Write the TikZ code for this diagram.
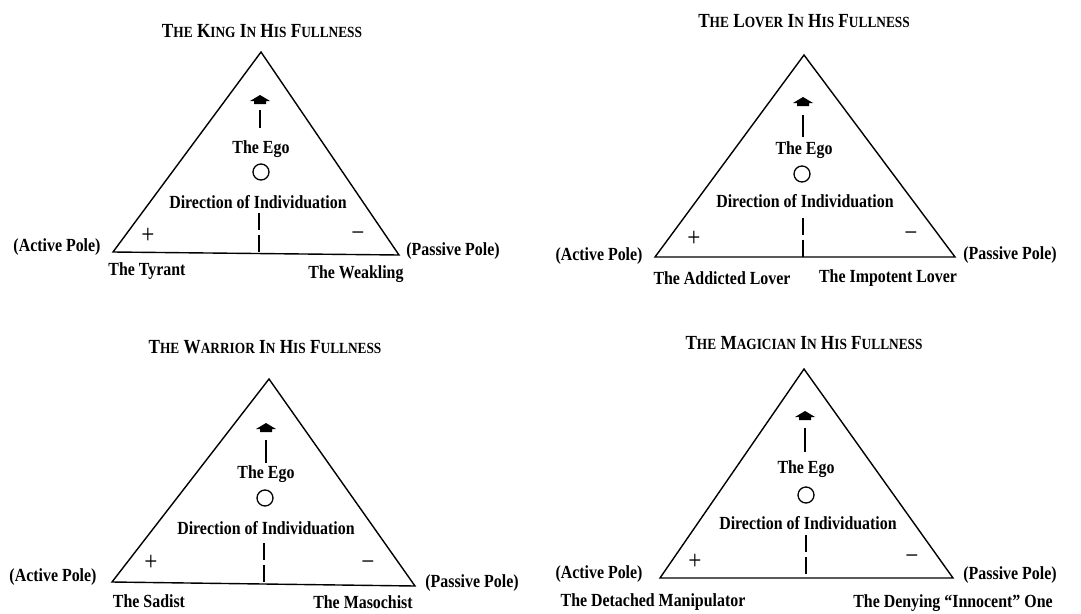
\documentclass[tikz,border=0pt]{standalone}
\usepackage{fontspec}
\setmainfont{Liberation Serif}[FakeStretch=0.86]
% small capitals built from two sizes of upper case
\newcommand\smc[1]{{\fontsize{15.5}{17}\selectfont #1}}
\tikzset{
  tri/.style={line width=1.4pt, line join=miter},
  lbl/.style={font=\fontsize{18.5}{20}\selectfont\bfseries, inner sep=0pt},
  ttl/.style={font=\fontsize{20}{22}\selectfont\bfseries, inner sep=0pt},
  sign/.style={font=\fontsize{27}{27}\selectfont, inner sep=0pt},
  shaft/.style={line width=1.8pt},
  dashline/.style={line width=1.6pt, dash pattern=on 17pt off 5pt},
  ego/.style={circle, draw, line width=1.3pt, minimum size=16pt, inner sep=0pt},
  uphead/.pic={\fill (0,-5) -- (-10,1) -- (-6,1) -- (-6,4) -- (6,4) -- (6,1) -- (10,1) -- cycle;}
}
\begin{document}
\begin{tikzpicture}[x=1pt,y=-1pt]
\useasboundingbox (0,0) rectangle (1081,613);

% ---------------- The King ----------------
\node[ttl] (kTitle) at (262,31) {T\smc{HE} K\smc{ING} I\smc{N} H\smc{IS} F\smc{ULLNESS}};
\coordinate (kA) at (261,52);
\coordinate (kL) at (113,252);
\coordinate (kR) at (399,255);
\draw[tri] (kA) -- (kL) -- (kR) -- cycle;
\pic at (260,100) {uphead};
\coordinate (kS1) at (260,110);
\coordinate (kS2) at (260,128);
\draw[shaft] (kS2) -- (kS1);
\node[lbl] (kEgo) at (261,149) {The Ego};
\node[ego] (kC) at (261,172) {};
\node[lbl] (kDir) at (258,202) {Direction of Individuation};
\coordinate (kT) at (259,213);
\coordinate (kM) at (259,253.5);
\draw[dashline] (kT) -- (kM);
\node[sign] (kPlus) at (148,236) {+};
\node[sign] (kMinus) at (358,237) {−};
\node[lbl] (kAct) at (57,247) {(Active Pole)};
\node[lbl] (kPas) at (453,251) {(Passive Pole)};
\node[lbl] (kNeg1) at (147,271) {The Tyrant};
\node[lbl] (kNeg2) at (356,274) {The Weakling};

% ---------------- The Lover ----------------
\node[ttl] (lTitle) at (804,21) {T\smc{HE} L\smc{OVER} I\smc{N} H\smc{IS} F\smc{ULLNESS}};
\coordinate (lA) at (804,55);
\coordinate (lL) at (655,257);
\coordinate (lR) at (955,257);
\draw[tri] (lA) -- (lL) -- (lR) -- cycle;
\pic at (803,102) {uphead};
\coordinate (lS1) at (803,115);
\coordinate (lS2) at (803,137);
\draw[shaft] (lS2) -- (lS1);
\node[lbl] (lEgo) at (804,150) {The Ego};
\node[ego] (lC) at (802,174) {};
\node[lbl] (lDir) at (805,201) {Direction of Individuation};
\coordinate (lT) at (803,218);
\coordinate (lM) at (803,257);
\draw[dashline] (lT) -- (lM);
\node[sign] (lPlus) at (694,239) {+};
\node[sign] (lMinus) at (911,237) {−};
\node[lbl] (lAct) at (599,256) {(Active Pole)};
\node[lbl] (lPas) at (1010,255) {(Passive Pole)};
\node[lbl] (lNeg1) at (722,278) {The Addicted Lover};
\node[lbl] (lNeg2) at (888,278) {The Impotent Lover};

% ---------------- The Warrior ----------------
\node[ttl] (wTitle) at (265,347) {T\smc{HE} W\smc{ARRIOR} I\smc{N} H\smc{IS} F\smc{ULLNESS}};
\coordinate (wA) at (269,379);
\coordinate (wL) at (112,582);
\coordinate (wR) at (415,586);
\draw[tri] (wA) -- (wL) -- (wR) -- cycle;
\pic at (266,428) {uphead};
\coordinate (wS1) at (266,440);
\coordinate (wS2) at (266,463);
\draw[shaft] (wS2) -- (wS1);
\node[lbl] (wEgo) at (266,474) {The Ego};
\node[ego] (wC) at (265,498) {};
\node[lbl] (wDir) at (266,528) {Direction of Individuation};
\coordinate (wT) at (264,543);
\coordinate (wM) at (264,584);
\draw[dashline] (wT) -- (wM);
\node[sign] (wPlus) at (151,563) {+};
\node[sign] (wMinus) at (368,566) {−};
\node[lbl] (wAct) at (53,577) {(Active Pole)};
\node[lbl] (wPas) at (472,583) {(Passive Pole)};
\node[lbl] (wNeg1) at (149,601) {The Sadist};
\node[lbl] (wNeg2) at (363,602) {The Masochist};

% ---------------- The Magician ----------------
\node[ttl] (mTitle) at (804,343) {T\smc{HE} M\smc{AGICIAN} I\smc{N} H\smc{IS} F\smc{ULLNESS}};
\coordinate (mA) at (804,369);
\coordinate (mL) at (660,578);
\coordinate (mR) at (953,578);
\draw[tri] (mA) -- (mL) -- (mR) -- cycle;
\pic at (805,416) {uphead};
\coordinate (mS1) at (805,428);
\coordinate (mS2) at (805,452);
\draw[shaft] (mS2) -- (mS1);
\node[lbl] (mEgo) at (806,469) {The Ego};
\node[ego] (mC) at (806,495) {};
\node[lbl] (mDir) at (808,523) {Direction of Individuation};
\coordinate (mT) at (806,535);
\coordinate (mM) at (806,578);
\draw[dashline] (mT) -- (mM);
\node[sign] (mPlus) at (695,562) {+};
\node[sign] (mMinus) at (912,560) {−};
\node[lbl] (mAct) at (599,574) {(Active Pole)};
\node[lbl] (mPas) at (1010,575) {(Passive Pole)};
\node[lbl] (mNeg1) at (653,602) {The Detached Manipulator};
\node[lbl] (mNeg2) at (953,603) {The Denying “Innocent” One};
\end{tikzpicture}
\end{document}
